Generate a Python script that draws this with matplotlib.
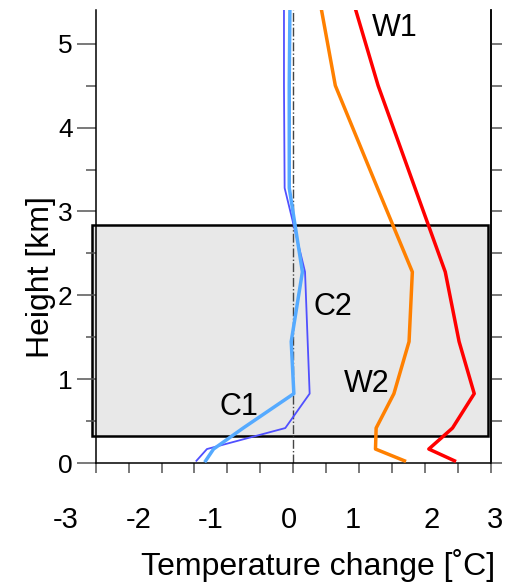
import matplotlib.pyplot as plt
from matplotlib.patches import Rectangle

plt.rcParams['font.family'] = ['Liberation Sans', 'DejaVu Sans']

# model levels (km) and temperature change profiles (deg C)
height = [0.03, 0.17, 0.42, 0.83, 1.45, 2.28, 3.28, 4.50, 5.40]
w1 = [2.45, 2.06, 2.42, 2.75, 2.52, 2.31, 1.85, 1.29, 0.95]
w2 = [1.69, 1.25, 1.26, 1.53, 1.76, 1.81, 1.28, 0.64, 0.43]
c1 = [-1.33, -1.21, -0.76, 0.01, -0.03, 0.14, -0.06, -0.06, -0.05]
c2 = [-1.47, -1.31, -0.12, 0.25, 0.22, 0.18, -0.13, -0.14, -0.14]

# boundary layer box (km)
box_bottom, box_top = 0.325, 2.84

xtick_labels = ['-3', '-2', '-1', '0', '1', '2', '3']
xtick_label_pos = [-3.46, -2.35, -1.26, -0.07, 0.90, 2.11, 3.07]

fig = plt.figure(figsize=(5.17, 5.83), dpi=100)
ax = fig.add_axes([0.1851, 0.2053, 0.764, 0.7775])
ax.set_xlim(-3, 3)
ax.set_ylim(0, 5.40)

ax.add_patch(Rectangle((-3.06, box_bottom), 3.04 + 2.98, box_top - box_bottom,
                       facecolor='#e8e8e8', edgecolor='black', lw=1.8,
                       clip_on=False, zorder=1))
ax.axvline(0, color='#444444', lw=1.0, ls='-.', zorder=2)

ax.plot(w1, height, color='#ff0000', lw=2.5, zorder=3)
ax.plot(w2, height, color='#ff8000', lw=2.5, zorder=3)
ax.plot(c2, height, color='#5050ff', lw=1.3, zorder=3)
ax.plot(c1, height, color='#55aaff', lw=2.5, zorder=3)

ax.text(1.54, 5.19, 'W1', fontsize=22, ha='center', va='center')
ax.text(1.11, 0.95, 'W2', fontsize=22, ha='center', va='center')
ax.text(-0.82, 0.665, 'C1', fontsize=22, ha='center', va='center')
ax.text(0.61, 1.86, 'C2', fontsize=22, ha='center', va='center')

# spines and ticks
ax.spines['top'].set_visible(False)
ax.spines['left'].set_linewidth(1.1)
ax.spines['right'].set_linewidth(1.1)
ax.spines['bottom'].set_linewidth(1.1)
ax.set_xticks([-3 + 0.5 * i for i in range(13)])
ax.set_xticklabels([])
ax.set_yticks([0, 1, 2, 3, 4, 5])
ax.set_yticks([0.5, 1.5, 2.5, 3.5, 4.5], minor=True)
ax.tick_params(axis='x', direction='out', length=7.2, width=1.1, color='#555555')
ax.tick_params(axis='y', which='major', direction='out', length=13.7, width=1.1,
               color='#555555', labelsize=19, pad=3, right=False)
ax.tick_params(axis='y', which='minor', direction='out', length=7.2, width=1.1,
               color='#555555', right=False)

ax2 = ax.twinx()
ax2.set_ylim(0, 5.40)
ax2.set_yticks([0.5 * i for i in range(11)])
ax2.set_yticklabels([])
ax2.tick_params(axis='y', direction='out', length=8, width=1.1, color='#555555')
for s in ['top', 'left', 'bottom']:
    ax2.spines[s].set_visible(False)
ax2.spines['right'].set_linewidth(1.1)

for lab, xp in zip(xtick_labels, xtick_label_pos):
    ax.text(xp, -0.68, lab, fontsize=21, ha='center', va='center', clip_on=False)

fig.text(318 / 517, 1 - 565 / 583, 'Temperature change [˚C]', fontsize=23,
         ha='center', va='center')
fig.text(41 / 517, 1 - 277 / 583, 'Height [km]', fontsize=23, rotation=90,
         ha='center', va='center')

fig.savefig('out.png', dpi=100)
